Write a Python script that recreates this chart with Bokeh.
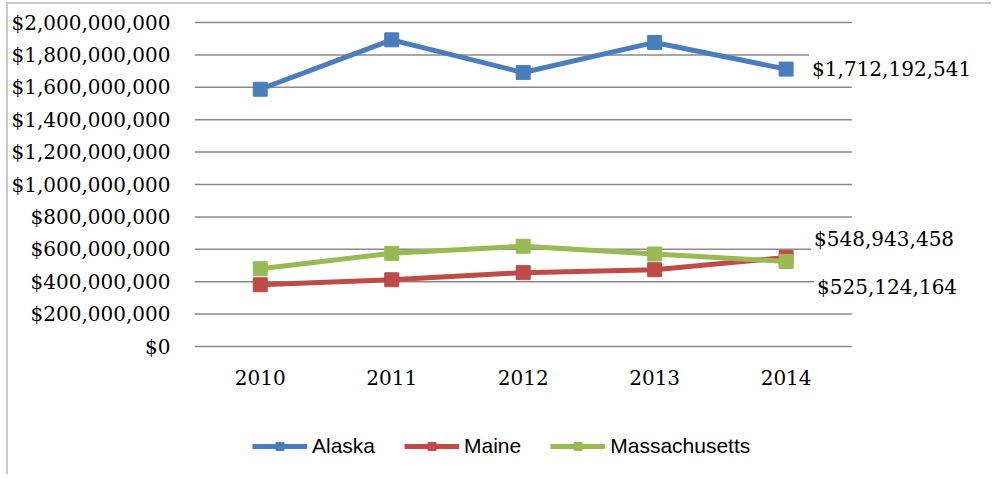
from bokeh.plotting import figure
from bokeh.models import (Range1d, FixedTicker, NumeralTickFormatter,
                          Legend, LegendItem, Label)
from bokeh.core.properties import value
from bokeh.embed import file_html
from bokeh.resources import INLINE

years = ["2010", "2011", "2012", "2013", "2014"]
alaska = [1588000000, 1893000000, 1691000000, 1877000000, 1712192541]
maine = [381000000, 412000000, 456000000, 474000000, 548943458]
massachusetts = [480000000, 575000000, 619000000, 571000000, 525124164]
y_ticks = [0, 200000000, 400000000, 600000000, 800000000, 1000000000,
           1200000000, 1400000000, 1600000000, 1800000000, 2000000000]
end_labels = ["$1,712,192,541", "$548,943,458", "$525,124,164"]

series = [("Alaska", alaska, "#4A7EBB"),
          ("Maine", maine, "#BE4B48"),
          ("Massachusetts", massachusetts, "#98B954")]

SERIF = "DejaVu Serif"

W, H = 985, 472
LEFT, TOP = 184, 16
SLOT = 131.8                  # pixels per category slot

# category slots: each year sits at the centre of a unit-wide slot
n = len(years)
xs = [i + 0.5 for i in range(n)]
ymax = y_ticks[-1]
px = ymax / 324.0             # value per pixel on the value axis

p = figure(x_range=Range1d(0, (W - LEFT) / SLOT),
           y_range=Range1d(-(H - TOP - 326) * px, ymax + 2 * px),
           width=W, height=H, output_backend="svg", toolbar_location=None,
           x_axis_location=None,
           min_border_left=LEFT, min_border_right=0, min_border_top=TOP, min_border_bottom=0)
p.outline_line_color = None
p.background_fill_color = "white"
p.border_fill_color = "white"
p.xgrid.grid_line_color = None
p.ygrid.grid_line_color = None

p.yaxis.ticker = FixedTicker(ticks=y_ticks)
p.yaxis.formatter = NumeralTickFormatter(format="$0,0")
ax = p.yaxis[0]
ax.axis_line_color = None
ax.major_tick_line_color = None
ax.minor_tick_line_color = None
ax.major_tick_out = 0
ax.major_tick_in = 0
ax.minor_tick_out = 0
ax.major_label_text_font = SERIF
ax.major_label_text_font_size = "20px"
ax.major_label_text_color = "black"
ax.major_label_standoff = 24

# horizontal grid lines across the category slots only
p.segment(x0=[0] * len(y_ticks), x1=[n] * len(y_ticks), y0=y_ticks, y1=y_ticks,
          line_color="#8a8a8a", line_width=1.5)

# category labels under the zero line
p.text(x=xs, y=[y_ticks[0]] * n, text=years, y_offset=31, text_align="center",
       text_baseline="middle", text_font=value(SERIF), text_font_size="20px",
       text_color="black")

items = []
for name, vals, col in series:
    r1 = p.line(xs, vals, line_color=col, line_width=5)
    r2 = p.scatter(xs, vals, marker="square", size=14, fill_color=col, line_color=col)
    items.append(LegendItem(label=name, renderers=[r1, r2]))

legend = Legend(items=items, orientation="horizontal", location=(58, 18),
                glyph_width=55, glyph_height=20, label_standoff=5, spacing=29,
                padding=0, margin=0, border_line_color=None, background_fill_alpha=0,
                label_text_font="Liberation Sans", label_text_font_size="21px",
                label_text_color="black")
p.add_layout(legend, "center")

label_offsets = [(23, 0), (25, 19), (28, -26)]
label_vals = [alaska[-1], maine[-1], massachusetts[-1]]
for txt, v, (dx, dy) in zip(end_labels, label_vals, label_offsets):
    p.add_layout(Label(x=xs[-1], y=v, text=txt, x_offset=dx, y_offset=dy,
                       text_font=SERIF, text_font_size="20px", text_color="black",
                       text_baseline="middle", text_align="left",
                       background_fill_color="white", padding=3))

# light chart-area frame at the left and top, as in the reference
p.styles = {"margin-left": "6px", "margin-top": "2px",
            "border-left": "2px solid #c8c8c8", "border-top": "2px solid #c8c8c8"}

open("out.html", "w").write(file_html(p, INLINE))
